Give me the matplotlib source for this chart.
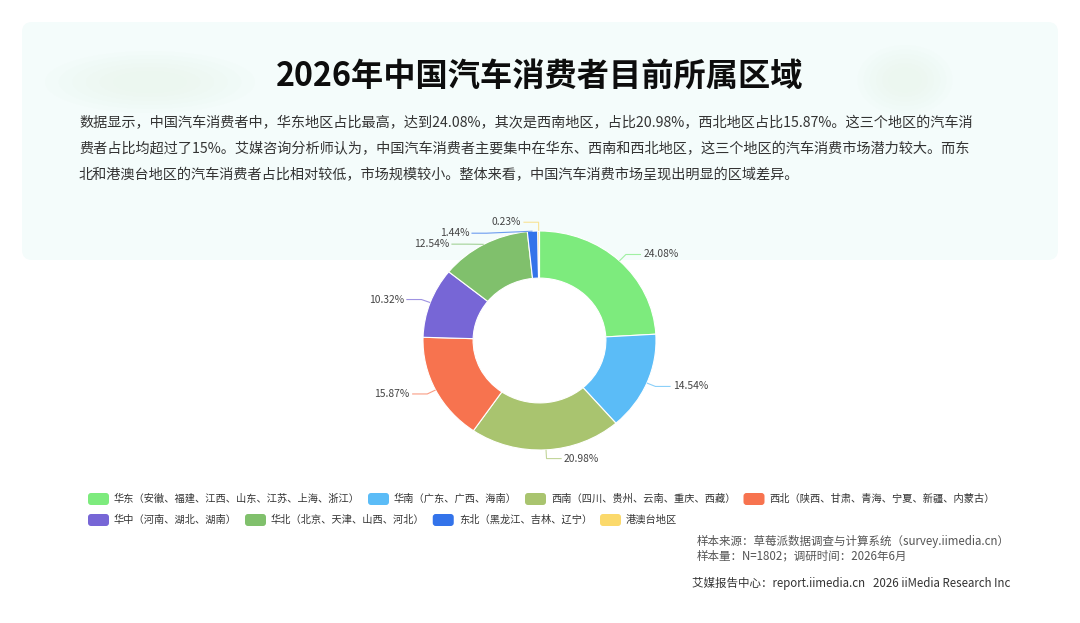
import matplotlib
matplotlib.use('Agg')
import matplotlib.pyplot as plt
from matplotlib.patches import FancyBboxPatch, Ellipse
import numpy as np

plt.rcParams['font.family'] = ['Noto Sans CJK SC', 'DejaVu Sans']

# ---------------- data ----------------
title = '2026年中国汽车消费者目前所属区域'
body_lines = [
    '数据显示，中国汽车消费者中，华东地区占比最高，达到24.08%，其次是西南地区，占比20.98%，西北地区占比15.87%。这三个地区的汽车消',
    '费者占比均超过了15%。艾媒咨询分析师认为，中国汽车消费者主要集中在华东、西南和西北地区，这三个地区的汽车消费市场潜力较大。而东',
    '北和港澳台地区的汽车消费者占比相对较低，市场规模较小。整体来看，中国汽车消费市场呈现出明显的区域差异。',
]
regions = ['华东（安徽、福建、江西、山东、江苏、上海、浙江）', '华南（广东、广西、海南）',
           '西南（四川、贵州、云南、重庆、西藏）', '西北（陕西、甘肃、青海、宁夏、新疆、内蒙古）',
           '华中（河南、湖北、湖南）', '华北（北京、天津、山西、河北）',
           '东北（黑龙江、吉林、辽宁）', '港澳台地区']
shares = [24.08, 14.54, 20.98, 15.87, 10.32, 12.54, 1.44, 0.23]
colors = ['#7deb7d', '#5bbcf7', '#a9c46f', '#f7734f', '#7766d6', '#80c06c', '#3373ea', '#fbd96b']
source_lines = ['样本来源：草莓派数据调查与计算系统（survey.iimedia.cn）',
                '样本量：N=1802；调研时间：2026年6月']
footer = '艾媒报告中心：report.iimedia.cn   2026 iiMedia Research Inc'

# ---------------- figure ----------------
W, H = 1080, 623
fig = plt.figure(figsize=(W / 100, H / 100), dpi=100)
fig.patch.set_facecolor('white')
bg = fig.add_axes([0, 0, 1, 1])
bg.set_xlim(0, W)
bg.set_ylim(H, 0)
bg.axis('off')

panel = FancyBboxPatch((22, 22), 1036, 238, boxstyle='round,pad=0,rounding_size=10',
                       fc='#f4fcfb', ec='none', zorder=0)
bg.add_patch(panel)
for (cx, cy, w, h) in [(150, 82, 210, 62), (905, 80, 95, 70)]:
    for k in range(6):
        bg.add_patch(Ellipse((cx, cy), w * (1 - k * 0.13), h * (1 - k * 0.13),
                             fc='#e2f7e3', ec='none', alpha=0.07, zorder=0.5))

bg.text(540, 76, title, ha='center', va='center', fontsize=23.2, fontweight='black', color='#0d0d0d')
for i, line in enumerate(body_lines):
    bg.text(79, 123 + 26.3 * i, line, ha='left', va='center', fontsize=10.2, color='#333333')

# ---------------- donut ----------------
cx_px, cy_px, rx, ry = 539.5, 340.5, 116.5, 109.5
span = 1.6
aw, ah = 2 * span * rx, 2 * span * ry
ax = fig.add_axes([(cx_px - aw / 2) / W, (H - cy_px - ah / 2) / H, aw / W, ah / H])
ax.patch.set_alpha(0)
wedges, _ = ax.pie(shares, colors=colors, startangle=90, counterclock=False, radius=1,
                   wedgeprops=dict(width=0.43, edgecolor='white', linewidth=0.8))
ax.set_xlim(-span, span)
ax.set_ylim(-span, span)
ax.set_aspect('auto')
ax.axis('off')

rA, L2, gap = 1.08, 0.13, 0.1
info = []
for w, v, c in zip(wedges, shares, colors):
    ang = np.deg2rad((w.theta1 + w.theta2) / 2)
    axx, ayy = np.cos(ang), np.sin(ang)
    side = 1 if axx >= 0 else -1
    info.append(dict(a=(axx, ayy), y=rA * ayy, side=side, v=v, c=c))
for side in (1, -1):
    items = sorted([d for d in info if d['side'] == side], key=lambda d: -d['y'])
    for prev, cur in zip(items, items[1:]):
        if prev['y'] - cur['y'] < gap:
            cur['y'] = prev['y'] - gap
for d in info:
    y = d['y']
    x = d['side'] * np.sqrt(max(rA ** 2 - y ** 2, 0))
    xend = x + d['side'] * L2
    ax.plot([d['a'][0], x, xend], [d['a'][1], y, y], color=d['c'], lw=0.8, alpha=0.7,
            solid_capstyle='butt')
    ax.text(xend + d['side'] * 0.02, y, f"{d['v']:.2f}%", ha='left' if d['side'] > 0 else 'right',
            va='center', fontsize=7.4, color='#444444')

# ---------------- legend ----------------
renderer = fig.canvas.get_renderer()
per_row = 4
x0, row_y, row_h, item_gap = 88, 499, 21, 8
for i, (name, c) in enumerate(zip(regions, colors)):
    if i % per_row == 0:
        x = x0
        y = row_y + row_h * (i // per_row)
    t = bg.text(x + 26, y, name, fontsize=7.35, va='center', ha='left', color='#333333')
    tw = t.get_window_extent(renderer).width
    bg.add_patch(FancyBboxPatch((x, y - 6), 21, 12, boxstyle='round,pad=0,rounding_size=3',
                                fc=c, ec='none'))
    x += 26 + tw + item_gap

# ---------------- footer ----------------
for i, s in enumerate(source_lines):
    bg.text(697, 541 + 15 * i, s, ha='left', va='center', fontsize=8.3, color='#555555')
bg.text(692, 583, footer, ha='left', va='center', fontsize=8.3, color='#333333')

fig.savefig('out.png', dpi=100)
